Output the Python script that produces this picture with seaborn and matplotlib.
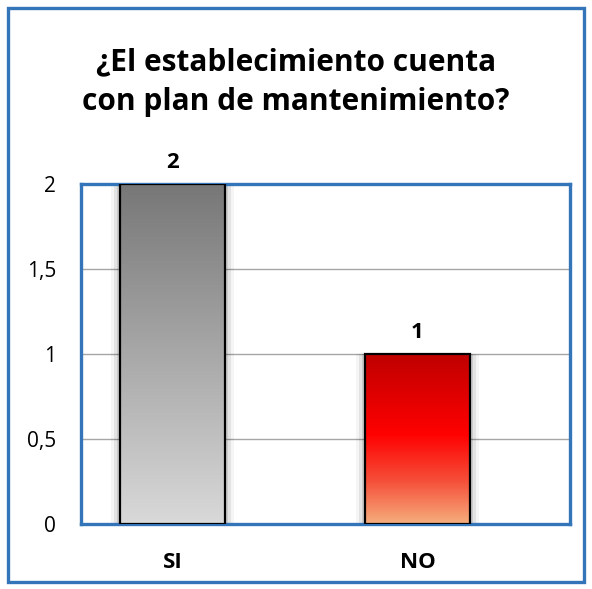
import numpy as np
import pandas as pd
import matplotlib
matplotlib.use("Agg")
import matplotlib.pyplot as plt
import seaborn as sns
from matplotlib.colors import LinearSegmentedColormap
from matplotlib.patches import Rectangle
from matplotlib.ticker import FuncFormatter

categories = ["SI", "NO"]
values = [2, 1]
title = "¿El establecimiento cuenta\ncon plan de mantenimiento?"
yticks = [0, 0.5, 1, 1.5, 2]

sns.set_theme(style="white")
plt.rcParams['font.family'] = ['Open Sans', 'DejaVu Sans']

W, H, DPI = 592, 589, 100
fig = plt.figure(figsize=(W / DPI, H / DPI), dpi=DPI)
fig.patch.set_facecolor("white")

# axes placement in pixels: x 81..570, y 184..524
ax = fig.add_axes([81 / W, 1 - 524 / H, (570 - 81) / W, (524 - 184) / H])

df = pd.DataFrame({"cat": categories, "val": values})
sns.barplot(data=df, x="cat", y="val", hue="cat", palette=["#a0a0a0", "#ff0000"],
            width=0.43, legend=False, ax=ax, zorder=3)

blue = "#3474b8"
ax.set_xlim(-0.373, 1.622)
ax.set_ylim(0, 2)
ax.set_yticks(yticks)
ax.yaxis.set_major_formatter(FuncFormatter(lambda v, p: f"{v:g}".replace(".", ",")))
ax.grid(axis="y", color="#a6a6a6", linewidth=1.0, zorder=1)
ax.set_axisbelow(True)
for s in ax.spines.values():
    s.set_color(blue)
    s.set_linewidth(2.4)
ax.tick_params(axis="both", length=0)
ax.tick_params(axis="y", pad=18, labelsize=15, labelcolor="black")
ax.tick_params(axis="x", pad=20, labelsize=16, labelcolor="black")
for t in ax.get_xticklabels():
    t.set_fontweight("bold")
ax.set_xlabel("")
ax.set_ylabel("")

grads = [
    LinearSegmentedColormap.from_list("g", [(0, "#777777"), (1, "#d9d9d9")]),
    LinearSegmentedColormap.from_list("r", [(0, "#bf0000"), (0.47, "#ff0000"),
                                            (0.75, "#f5503a"), (1, "#f6ae7e")]),
]
grad = np.linspace(0, 1, 256).reshape(-1, 1)
for patch, cmap, v in zip(ax.patches, grads, values):
    x0, y0 = patch.get_x(), patch.get_y()
    w, h = patch.get_width(), patch.get_height()
    for k, a in enumerate([0.10, 0.07, 0.04]):
        sh = Rectangle((x0 - 0.012 * (k + 1), y0), w + 0.024 * (k + 1), h,
                       facecolor="black", alpha=a, edgecolor="none", zorder=2)
        ax.add_patch(sh)
    im = ax.imshow(grad, cmap=cmap, extent=[x0, x0 + w, y0, y0 + h],
                   origin="upper", aspect="auto", zorder=3.5)
    im.set_clip_path(patch)
    patch.set_facecolor("none")
    patch.set_edgecolor("black")
    patch.set_linewidth(1.6)
    patch.set_zorder(4)
    ax.text(x0 + w / 2, y0 + h + 0.125, f"{v}", ha="center", va="center",
            fontsize=16, fontweight="bold", color="black")

ax.set_xlim(-0.373, 1.622)
ax.set_ylim(0, 2)

fig.text(0.5, 1 - 82 / H, title, ha="center", va="center", fontsize=21.5,
         fontweight="bold", linespacing=1.4, color="black")

fig.patches.append(Rectangle((8 / W, 1 - 582 / H), 576 / W, 574 / H,
                             transform=fig.transFigure, fill=False,
                             edgecolor=blue, linewidth=2.4))

fig.savefig("out.png", dpi=DPI)
